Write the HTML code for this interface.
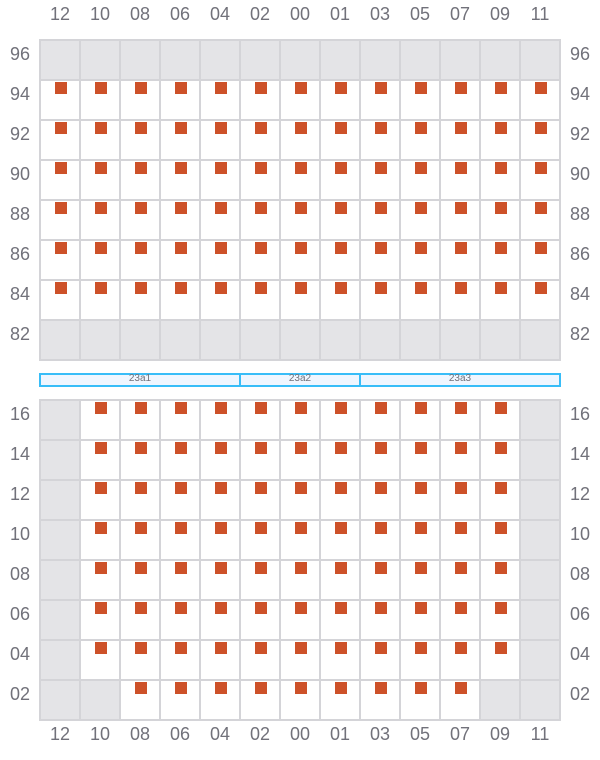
<!DOCTYPE html>
<html><head><meta charset="utf-8"><style>
html,body{margin:0;padding:0;background:#fff;}
svg{display:block;font-family:"Liberation Sans",sans-serif;}
</style></head><body>
<svg width="600" height="760" viewBox="0 0 600 760" xmlns="http://www.w3.org/2000/svg">
<g id="cells"></g>
</svg>
<script>
(function(){
var svg=document.querySelector('svg');
var NS='http://www.w3.org/2000/svg';
function el(t,a,txt){var e=document.createElementNS(NS,t);for(var k in a)e.setAttribute(k,a[k]);if(txt!==undefined)e.textContent=txt;svg.appendChild(e);return e;}
var cols=['12','10','08','06','04','02','00','01','03','05','07','09','11'];
var topRows=['96','94','92','90','88','86','84','82'];
var botRows=['16','14','12','10','08','06','04','02'];
var G='#e4e4e7',L='#d4d4d8',S='#cd5129',T='#71717a';
function grid(y0,rows,isGray,hasSq){
 for(var r=0;r<8;r++){
  for(var c=0;c<13;c++){
   var x=40+c*40,y=y0+r*40;
   el('rect',{x:x,y:y,width:40,height:40,fill:isGray(r,c)?G:'#fff',stroke:L,'stroke-width':2});
  }
 }
 for(var r=0;r<8;r++){
  for(var c=0;c<13;c++){
   if(hasSq(r,c)) el('rect',{x:40+c*40+15,y:y0+r*40+2,width:12,height:12,fill:S});
  }
  el('text',{x:20,y:y0+r*40+20,'text-anchor':'middle','font-size':18,fill:T},rows[r]);
  el('text',{x:580,y:y0+r*40+20,'text-anchor':'middle','font-size':18,fill:T},rows[r]);
 }
}
grid(40,topRows,function(r,c){return r==0||r==7;},function(r,c){return r>=1&&r<=6;});
grid(400,botRows,function(r,c){ if(r==7) return c<=1||c>=11; return c==0||c==12;},function(r,c){ if(r==7) return c>=2&&c<=10; return c>=1&&c<=11;});
for(var c=0;c<13;c++){
 el('text',{x:60+c*40,y:20,'text-anchor':'middle','font-size':18,fill:T},cols[c]);
 el('text',{x:60+c*40,y:740,'text-anchor':'middle','font-size':18,fill:T},cols[c]);
}
var segs=[[40,240,'23a1'],[240,360,'23a2'],[360,560,'23a3']];
segs.forEach(function(s){
 el('rect',{x:s[0],y:374,width:s[1]-s[0],height:12,fill:'#eff6ff',stroke:'#38bdf8','stroke-width':2});
});
segs.forEach(function(s){
 el('text',{x:(s[0]+s[1])/2,y:381,'text-anchor':'middle','font-size':10,fill:T},s[2]);
});
})();
</script>
</body></html>
